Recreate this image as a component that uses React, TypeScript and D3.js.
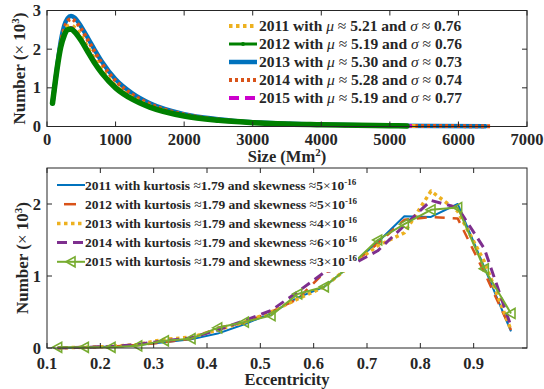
import React from "react";
import * as d3 from "d3";

// ---------- Top panel data (size distribution) ----------
const SIZE_X = [80, 120, 160, 200, 250, 300, 350, 400, 500, 600, 700, 800, 1000, 1250, 1500, 2000, 2500, 3000, 4000, 5000];
const SIZE_END = [5410, 5250, 6395, 6480, 5300]; // last x of 2011..2015
const SIZE_2011 = [0.6, 1.15, 1.68, 2.1, 2.42, 2.58, 2.62, 2.56, 2.33, 2.03, 1.73, 1.46, 1.06, 0.74, 0.53, 0.28, 0.17, 0.1, 0.046, 0.02, 0.013];
const SIZE_2012 = [0.6, 1.15, 1.65, 2.05, 2.35, 2.5, 2.52, 2.45, 2.22, 1.92, 1.63, 1.38, 1.0, 0.7, 0.5, 0.27, 0.16, 0.1, 0.045, 0.02, 0.015];
const SIZE_2013 = [0.6, 1.15, 1.7, 2.2, 2.6, 2.8, 2.86, 2.82, 2.58, 2.28, 1.97, 1.68, 1.22, 0.85, 0.6, 0.32, 0.19, 0.11, 0.05, 0.022, 0.008];
const SIZE_2014 = [0.6, 1.15, 1.7, 2.15, 2.52, 2.72, 2.78, 2.74, 2.52, 2.22, 1.92, 1.63, 1.18, 0.82, 0.58, 0.31, 0.18, 0.11, 0.048, 0.02, 0.008];
const SIZE_2015 = [0.6, 1.15, 1.66, 2.07, 2.38, 2.53, 2.55, 2.48, 2.25, 1.95, 1.66, 1.4, 1.02, 0.71, 0.51, 0.27, 0.16, 0.1, 0.045, 0.02, 0.015];
const TOP_LABELS = [
  { year: "2011", mu: "5.21", sigma: "0.76" },
  { year: "2012", mu: "5.19", sigma: "0.76" },
  { year: "2013", mu: "5.30", sigma: "0.73" },
  { year: "2014", mu: "5.28", sigma: "0.74" },
  { year: "2015", mu: "5.19", sigma: "0.77" },
];
const TOP_X_TICKS = [0, 1000, 2000, 3000, 4000, 5000, 6000, 7000];
const TOP_Y_TICKS = [0, 1, 2, 3];

// ---------- Bottom panel data (eccentricity) ----------
const ECC_X = [0.12, 0.17, 0.22, 0.27, 0.32, 0.37, 0.42, 0.47, 0.52, 0.57, 0.62, 0.67, 0.72, 0.77, 0.82, 0.87, 0.92, 0.97];
const ECC_2011 = [0.0, 0.01, 0.02, 0.04, 0.08, 0.12, 0.2, 0.33, 0.48, 0.7, 0.85, 1.15, 1.47, 1.83, 1.82, 2.0, 1.12, 0.23];
const ECC_2012 = [0.0, 0.01, 0.02, 0.04, 0.08, 0.13, 0.28, 0.35, 0.5, 0.68, 1.05, 1.15, 1.45, 1.78, 1.82, 1.8, 1.05, 0.25];
const ECC_2013 = [0.0, 0.01, 0.02, 0.05, 0.12, 0.15, 0.25, 0.36, 0.5, 0.68, 0.85, 1.15, 1.42, 1.6, 2.18, 1.9, 1.2, 0.25];
const ECC_2014 = [0.0, 0.01, 0.02, 0.05, 0.1, 0.14, 0.25, 0.38, 0.52, 0.78, 1.05, 1.15, 1.35, 1.7, 2.05, 1.95, 1.38, 0.3];
const ECC_2015 = [0.01, 0.01, 0.01, 0.03, 0.1, 0.13, 0.28, 0.36, 0.45, 0.75, 0.85, 1.15, 1.5, 1.72, 1.92, 1.95, 1.1, 0.48];
const BOT_LABELS = [
  { year: "2011", kurt: "1.79", skew: "5" },
  { year: "2012", kurt: "1.79", skew: "5" },
  { year: "2013", kurt: "1.79", skew: "4" },
  { year: "2014", kurt: "1.79", skew: "6" },
  { year: "2015", kurt: "1.79", skew: "3" },
];
const BOT_X_TICKS = [0.1, 0.2, 0.3, 0.4, 0.5, 0.6, 0.7, 0.8, 0.9];
const BOT_Y_TICKS = [0, 1, 2];

const FONT = "Liberation Serif, Times New Roman, DejaVu Serif, serif";
const AX = "#262626";

type Style = { color: string; width: number; dash?: string; linecap?: string };

const TOP_STYLES: Style[] = [
  { color: "#EDB120", width: 4, dash: "3.5,3.5", linecap: "butt" },
  { color: "#008000", width: 5.5 },
  { color: "#0072BD", width: 4.5 },
  { color: "#D95319", width: 4, dash: "3,3", linecap: "butt" },
  { color: "#CC00CC", width: 4, dash: "10,6" },
];
const BOT_STYLES: Style[] = [
  { color: "#0072BD", width: 2 },
  { color: "#D95319", width: 2.5, dash: "10,8" },
  { color: "#EDB120", width: 3.5, dash: "3.5,3.5" },
  { color: "#7E2F8E", width: 3, dash: "10,6" },
  { color: "#77AC30", width: 2 },
];

function tri(x: number, y: number) {
  return `M${x - 5},${y} L${x + 4},${y - 5} L${x + 4},${y + 5} Z`;
}

const TX: React.CSSProperties = { fontFamily: FONT };

export default function App() {
  const W = 544, H = 389;
  const T = { l: 47, r: 527, t: 10.5, b: 126.5 };
  const B = { l: 47, r: 527, t: 168, b: 348 };
  const xT = d3.scaleLinear().domain([0, 7000]).range([T.l, T.r]);
  const yT = d3.scaleLinear().domain([0, 3]).range([T.b, T.t]);
  const xB = d3.scaleLinear().domain([0.1, 1.0]).range([B.l, B.r]);
  const yB = d3.scaleLinear().domain([0, 2.5]).range([B.b, B.t]);

  const topSeries = [SIZE_2011, SIZE_2012, SIZE_2013, SIZE_2014, SIZE_2015];
  const botSeries = [ECC_2011, ECC_2012, ECC_2013, ECC_2014, ECC_2015];

  const lineT = d3
    .line<[number, number]>()
    .x((d) => xT(d[0]))
    .y((d) => yT(d[1]))
    .curve(d3.curveMonotoneX);
  const lineB = d3
    .line<[number, number]>()
    .x((d) => xB(d[0]))
    .y((d) => yB(d[1]));

  const topPts = topSeries.map((vals, i) =>
    vals.map((v, j) => [j < SIZE_X.length ? SIZE_X[j] : SIZE_END[i], v] as [number, number])
  );
  const botPts = botSeries.map((vals) => vals.map((v, j) => [ECC_X[j], v] as [number, number]));

  const topOrder = [2, 3, 0, 4, 1];
  const tick = 5;

  const axesBox = (P: any) => (
    <rect x={P.l} y={P.t} width={P.r - P.l} height={P.b - P.t} fill="none" stroke={AX} strokeWidth={1} />
  );

  return (
    <svg width={W} height={H} style={{ position: "absolute", left: 0, top: 0, background: "#fff", fontFamily: FONT }}>
      <rect x={0} y={0} width={W} height={H} fill="#fff" />
      {/* ===== TOP PANEL ===== */}
      <g>
        {topOrder.map((i) => (
          <path
            key={"t" + i}
            d={lineT(topPts[i]) || ""}
            fill="none"
            stroke={TOP_STYLES[i].color}
            strokeWidth={TOP_STYLES[i].width}
            strokeDasharray={TOP_STYLES[i].dash}
            strokeLinejoin="round"
            strokeLinecap={(TOP_STYLES[i].linecap as any) || "round"}
          />
        ))}
        {axesBox(T)}
        {TOP_X_TICKS.map((v) => (
          <g key={"tx" + v}>
            <line x1={xT(v)} x2={xT(v)} y1={T.b} y2={T.b - tick} stroke={AX} />
            <line x1={xT(v)} x2={xT(v)} y1={T.t} y2={T.t + tick} stroke={AX} />
            <text style={TX} x={xT(v)} y={145} textAnchor="middle" fontSize={16.5} fontWeight="bold" fill={AX}>
              {v}
            </text>
          </g>
        ))}
        {TOP_Y_TICKS.map((v) => (
          <g key={"ty" + v}>
            <line x1={T.l} x2={T.l + tick} y1={yT(v)} y2={yT(v)} stroke={AX} />
            <line x1={T.r} x2={T.r - tick} y1={yT(v)} y2={yT(v)} stroke={AX} />
            <text style={TX} x={41} y={yT(v) + 5.5} textAnchor="end" fontSize={16.5} fontWeight="bold" fill={AX}>
              {v}
            </text>
          </g>
        ))}
        <text style={TX} x={(T.l + T.r) / 2} y={162} textAnchor="middle" fontSize={16.5} fontWeight="bold" fill={AX}>
          Size (Mm<tspan dy={-6} fontSize={11}>2</tspan>
          <tspan dy={6}>)</tspan>
        </text>
        <text
          style={TX}
          transform={`translate(25,${(T.t + T.b) / 2}) rotate(-90)`}
          textAnchor="middle"
          fontSize={17}
          fontWeight="bold"
          fill={AX}
        >
          Number (<tspan fontWeight="normal">×</tspan> 10<tspan dy={-6} fontSize={11}>3</tspan>
          <tspan dy={6}>)</tspan>
        </text>
        {/* legend */}
        {TOP_LABELS.map((lab, i) => {
          const y = 26 + i * 18;
          const s = TOP_STYLES[i];
          return (
            <g key={"tl" + i}>
              <line
                x1={229}
                x2={257}
                y1={y}
                y2={y}
                stroke={s.color}
                strokeWidth={i === 1 ? 3 : s.width}
                strokeDasharray={s.dash}
              />
              {i === 1 && <circle cx={243} cy={y} r={2} fill={s.color} />}
              <text style={TX} x={259} y={y + 5} fontSize={15.5} fontWeight="bold" fill={AX}>
                {lab.year} with <tspan fontStyle="italic" fontWeight="normal">μ</tspan>
                <tspan fontWeight="normal"> ≈ </tspan>
                {lab.mu} and <tspan fontStyle="italic" fontWeight="normal">σ</tspan>
                <tspan fontWeight="normal"> ≈ </tspan>
                {lab.sigma}
              </text>
            </g>
          );
        })}
      </g>

      {/* ===== BOTTOM PANEL ===== */}
      <g>
        {botPts.map((pts, i) => (
          <path
            key={"b" + i}
            d={lineB(pts) || ""}
            fill="none"
            stroke={BOT_STYLES[i].color}
            strokeWidth={BOT_STYLES[i].width}
            strokeDasharray={BOT_STYLES[i].dash}
            strokeLinejoin="round"
          />
        ))}
        {botPts[4].map((p, j) => (
          <path key={"m" + j} d={tri(xB(p[0]), yB(p[1]))} fill="none" stroke={BOT_STYLES[4].color} strokeWidth={1.6} />
        ))}
        <rect x={50} y={174} width={308} height={98} fill="#fff" />
        {axesBox(B)}
        {BOT_X_TICKS.map((v) => (
          <g key={"bx" + v}>
            <line x1={xB(v)} x2={xB(v)} y1={B.b} y2={B.b - tick} stroke={AX} />
            <line x1={xB(v)} x2={xB(v)} y1={B.t} y2={B.t + tick} stroke={AX} />
            <text style={TX} x={xB(v)} y={369} textAnchor="middle" fontSize={16.5} fontWeight="bold" fill={AX}>
              {d3.format(".1f")(v)}
            </text>
          </g>
        ))}
        {BOT_Y_TICKS.map((v) => (
          <g key={"by" + v}>
            <line x1={B.l} x2={B.l + tick} y1={yB(v)} y2={yB(v)} stroke={AX} />
            <line x1={B.r} x2={B.r - tick} y1={yB(v)} y2={yB(v)} stroke={AX} />
            <text style={TX} x={41} y={yB(v) + 5.5} textAnchor="end" fontSize={16.5} fontWeight="bold" fill={AX}>
              {v}
            </text>
          </g>
        ))}
        <text style={TX} x={(B.l + B.r) / 2} y={385} textAnchor="middle" fontSize={16.5} fontWeight="bold" fill={AX}>
          Eccentricity
        </text>
        <text
          style={TX}
          transform={`translate(28,${(B.t + B.b) / 2}) rotate(-90)`}
          textAnchor="middle"
          fontSize={17}
          fontWeight="bold"
          fill={AX}
        >
          Number (<tspan fontWeight="normal">×</tspan> 10<tspan dy={-6} fontSize={11}>3</tspan>
          <tspan dy={6}>)</tspan>
        </text>
        {BOT_LABELS.map((lab, i) => {
          const y = 185 + i * 19.2;
          const s = BOT_STYLES[i];
          return (
            <g key={"bl" + i}>
              {i === 1 ? (
                <line x1={64} x2={76} y1={y} y2={y} stroke={s.color} strokeWidth={s.width} />
              ) : (
                <line x1={57} x2={85} y1={y} y2={y} stroke={s.color} strokeWidth={s.width} strokeDasharray={s.dash} />
              )}
              {i === 4 && <path d={tri(71, y)} fill="none" stroke={s.color} strokeWidth={1.6} />}
              <text style={TX} x={85} y={y + 4.5} fontSize={13.5} fontWeight="bold" fill={AX}>
                {lab.year} with kurtosis <tspan fontWeight="normal">≈</tspan>
                {lab.kurt} and skewness <tspan fontWeight="normal">≈</tspan>
                {lab.skew}
                <tspan fontWeight="normal">×</tspan>10
                <tspan dy={-5} fontSize={9}>-16</tspan>
              </text>
            </g>
          );
        })}
      </g>
    </svg>
  );
}
